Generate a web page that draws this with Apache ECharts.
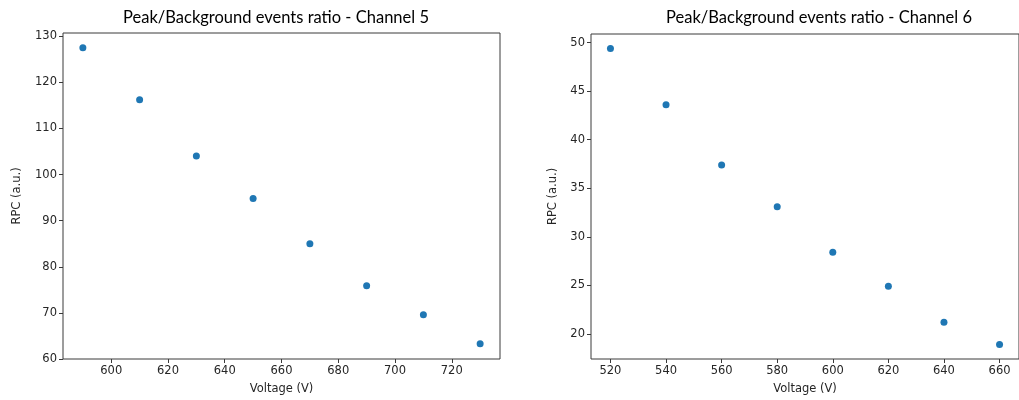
<!DOCTYPE html>
<html>
<head>
<meta charset="utf-8">
<script src="https://cdn.jsdelivr.net/npm/echarts@6/dist/echarts.min.js"></script>
<style>html,body{margin:0;padding:0;background:#fff}#c{width:1019px;height:400px}</style>
</head>
<body>
<div id="c"></div>
<script>
// Channel 5
const voltage5 = [590, 610, 630, 650, 670, 690, 710, 730];
const ratio5 = [127.5, 116.2, 104.0, 94.8, 85.0, 75.9, 69.6, 63.3];
const xTicks5 = [600, 620, 640, 660, 680, 700, 720];
const yTicks5 = [60, 70, 80, 90, 100, 110, 120, 130];
// Channel 6
const voltage6 = [520, 540, 560, 580, 600, 620, 640, 660];
const ratio6 = [49.4, 43.6, 37.4, 33.1, 28.4, 24.9, 21.2, 18.9];
const xTicks6 = [520, 540, 560, 580, 600, 620, 640, 660];
const yTicks6 = [20, 25, 30, 35, 40, 45, 50];

const titles = ['Peak/Background events ratio - Channel 5', 'Peak/Background events ratio - Channel 6'];
const xName = 'Voltage (V)';
const yName = 'RPC (a.u.)';

const FONT = 'DejaVu Sans';
const TFONT = 'Lato';
const txt = '#262626';
const axisCol = '#3a3a3a';

function xAxis(idx, min, max, ticks) {
  return {
    type: 'value', gridIndex: idx, min: min, max: max,
    name: xName, nameLocation: 'middle', nameGap: 24,
    nameTextStyle: {fontFamily: FONT, fontSize: 11.5, color: txt},
    axisLine: {show: false},
    splitLine: {show: false},
    axisTick: {show: true, inside: false, length: 4, lineStyle: {color: axisCol}, customValues: ticks},
    axisLabel: {fontFamily: FONT, fontSize: 11.5, color: txt, margin: 6, customValues: ticks}
  };
}
function yAxis(idx, min, max, ticks, gap) {
  return {
    type: 'value', gridIndex: idx, min: min, max: max,
    name: yName, nameLocation: 'middle', nameGap: gap, nameRotate: 90,
    nameTextStyle: {fontFamily: FONT, fontSize: 11.5, color: txt},
    axisLine: {show: false},
    splitLine: {show: false},
    axisTick: {show: true, inside: false, length: 4, lineStyle: {color: axisCol}, customValues: ticks},
    axisLabel: {fontFamily: FONT, fontSize: 11.5, color: txt, margin: 6, customValues: ticks}
  };
}

const chart = echarts.init(document.getElementById('c'), null, {renderer: 'canvas'});
chart.setOption({
  animation: false,
  backgroundColor: '#fff',
  title: [
    {text: titles[0], left: 271, top: 4, textAlign: 'center',
     textStyle: {fontFamily: TFONT, fontSize: 16.5, fontWeight: 'normal', color: '#000'}},
    {text: titles[1], left: 814, top: 4, textAlign: 'center',
     textStyle: {fontFamily: TFONT, fontSize: 16.5, fontWeight: 'normal', color: '#000'}}
  ],
  grid: [
    {left: 63, top: 33, right: 519, bottom: 41, show: true, borderColor: axisCol, borderWidth: 1, backgroundColor: 'transparent'},
    {left: 591, top: 34, right: -8, bottom: 40, show: true, borderColor: axisCol, borderWidth: 1, backgroundColor: 'transparent'}
  ],
  xAxis: [xAxis(0, 583, 737, xTicks5), xAxis(1, 513, 667, xTicks6)],
  yAxis: [yAxis(0, 60, 130.7, yTicks5, 40), yAxis(1, 17.4, 50.9, yTicks6, 32)],
  series: [
    {type: 'scatter', xAxisIndex: 0, yAxisIndex: 0, symbolSize: 7,
     itemStyle: {color: '#1f77b4', opacity: 1}, data: voltage5.map((v, i) => [v, ratio5[i]])},
    {type: 'scatter', xAxisIndex: 1, yAxisIndex: 1, symbolSize: 7,
     itemStyle: {color: '#1f77b4', opacity: 1}, data: voltage6.map((v, i) => [v, ratio6[i]])}
  ]
});
</script>
</body>
</html>
